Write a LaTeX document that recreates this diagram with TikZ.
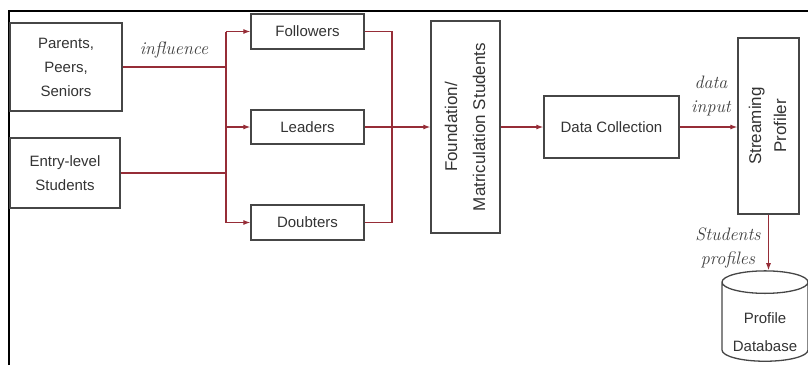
\documentclass[tikz,border=0pt]{standalone}
\usepackage{fontspec}
\setsansfont{Liberation Sans}
\usetikzlibrary{arrows.meta,shapes.geometric}
\definecolor{flowred}{RGB}{150,45,55}
\definecolor{boxgray}{RGB}{70,70,70}
\tikzset{
  block/.style={draw=boxgray, line width=1.3pt, text=black!80, align=center, inner sep=0pt,
    font=\sffamily\fontsize{15}{24}\selectfont},
  flow/.style={draw=flowred, line width=1.1pt},
  flowarrow/.style={flow, -{Latex[length=7pt,width=5pt]}},
  tag/.style={text=black!75, align=center, inner sep=0pt, font=\itshape\fontsize{18}{24}\selectfont}
}
\begin{document}
\begin{tikzpicture}[x=1pt, y=-1pt]
\useasboundingbox (0,0) rectangle (808,365);
% Outer frame (only left and top edges are visible)
\draw[line width=1.3pt] (9,365) -- (9,11) -- (808,11);

% Sources
\node[block, minimum width=112, minimum height=88] (parents) at (66,67) {Parents,\\Peers,\\Seniors};
\node[block, minimum width=110, minimum height=70] (entry) at (65,173) {Entry-level\\Students};

% Student types
\node[block, minimum width=113, minimum height=35] (followers) at (307.5,31.5) {Followers};
\node[block, minimum width=113, minimum height=34] (leaders) at (307.5,127) {Leaders};
\node[block, minimum width=113, minimum height=35] (doubters) at (307.5,222.5) {Doubters};

% Processing chain
\node[block, minimum width=69, minimum height=212] (foundation) at (465.5,127)
  {\rotatebox{90}{\fontsize{17}{28}\selectfont\begin{tabular}{@{}c@{}}Foundation/\\Matriculation Students\end{tabular}}};
\node[block, minimum width=135, minimum height=62] (collect) at (611.5,127) {Data Collection};
\node[block, minimum width=61, minimum height=176] (stream) at (768.5,126)
  {\rotatebox{90}{\fontsize{17}{25}\selectfont\begin{tabular}{@{}c@{}}Streaming\\Profiler\end{tabular}}};
\node[block, cylinder, shape border rotate=90, aspect=0.35, minimum width=86, minimum height=84] (db) at (765,322)
  {\raisebox{-10pt}[\height][\depth]{\fontsize{15}{28}\selectfont\begin{tabular}{@{}c@{}}Profile\\Database\end{tabular}}};

% Branch points
\coordinate (splitT) at (226,31.5);
\coordinate (splitB) at (226,222.5);
\coordinate (mergeT) at (392,31.5);
\coordinate (mergeB) at (392,222.5);

% Connectors
\draw[flow] (parents.east) -- (parents.east -| splitT);
\draw[flow] (entry.east) -- (entry.east -| splitT);
\draw[flow] (splitT) -- (splitB);
\draw[flowarrow] (splitT) -- (followers.west);
\draw[flowarrow] (leaders.west -| splitT) -- (leaders.west);
\draw[flowarrow] (splitB) -- (doubters.west);
\draw[flow] (followers.east) -- (mergeT) -- (mergeB) -- (doubters.east);
\draw[flowarrow] (leaders.east) -- (foundation.west);
\draw[flowarrow] (foundation.east) -- (collect.west);
\draw[flowarrow] (collect.east) -- (collect.east -| stream.west);
\draw[flowarrow] (stream.south) -- (stream.south |- db.north);

% Labels
\node[tag] (lblInfl) at (174,50) {influence};
\node[tag] (lblData) at (711,96) {data\\input};
\node[tag] (lblProf) at (728,248) {Students\\profiles};
\end{tikzpicture}
\end{document}
